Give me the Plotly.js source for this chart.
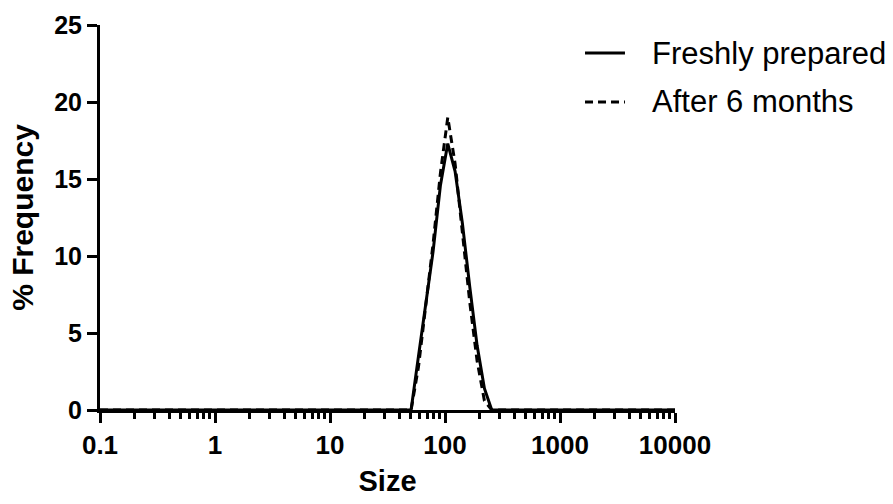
<!DOCTYPE html>
<html>
<head>
<meta charset="utf-8">
<script src="https://cdn.plot.ly/plotly-3.0.1.min.js"></script>
<style>html,body{margin:0;padding:0;background:#fff;}#chart{width:893px;height:504px;}</style>
</head>
<body>
<div id="chart"></div>
<script>
// Size (nm) bins and % frequency values
const sizes = [0.1, 40, 50.7, 58.8, 68.1, 78.8, 91.3, 105.7, 122.4, 141.8, 164.2, 190.1, 220.2, 255.0, 300, 10000];
const freshly = [0, 0, 0, 3.5, 7.0, 10.3, 14.6, 17.3, 15.5, 12.1, 8.0, 4.2, 1.4, 0, 0, 0];
const after6 = [0, 0, 0, 2.8, 6.8, 10.8, 15.4, 19.0, 16.0, 11.5, 7.0, 3.2, 0.6, 0, 0, 0];
const seriesNames = ["Freshly prepared", "After 6 months"];
const xTickVals = [0.1, 1, 10, 100, 1000, 10000];
const xTickText = ["0.1", "1", "10", "100", "1000", "10000"];
const yTickVals = [0, 5, 10, 15, 20, 25];

const font = "Liberation Sans, Arial, sans-serif";
const dashes = ["solid", "8px,5px"];
const traces = [
  {x: sizes, y: freshly, name: seriesNames[0], type: "scatter", mode: "lines",
   line: {color: "#000", width: 3, dash: dashes[0]}, showlegend: false},
  {x: sizes, y: after6, name: seriesNames[1], type: "scatter", mode: "lines",
   line: {color: "#000", width: 3, dash: dashes[1]}, showlegend: false}
];

// Custom legend (line samples + labels) placed to the upper right
const legendY = [0.927, 0.80];
const shapes = seriesNames.map((n, i) => ({
  type: "line", xref: "paper", yref: "paper", x0: 0.8435, x1: 0.913, y0: legendY[i], y1: legendY[i],
  line: {color: "#000", width: 3, dash: dashes[i]}
}));
const annotations = seriesNames.map((n, i) => ({
  xref: "paper", yref: "paper", x: 0.9565, y: legendY[i], xanchor: "left", yanchor: "middle",
  text: n, showarrow: false, font: {size: 31, family: font, color: "#000"}
}));

const layout = {
  width: 893, height: 504,
  margin: {l: 100, r: 218, t: 25, b: 94, autoexpand: false},
  paper_bgcolor: "#fff", plot_bgcolor: "#fff",
  font: {family: font, color: "#000"},
  xaxis: {
    type: "log", range: [-1, 4], tickvals: xTickVals, ticktext: xTickText,
    showgrid: false, zeroline: false, showline: true, linecolor: "#000", linewidth: 3,
    ticks: "outside", ticklen: 10, tickwidth: 3, tickcolor: "#000",
    tickfont: {size: 26, family: font, weight: "bold"},
    minor: {ticks: "outside", ticklen: 6, tickwidth: 3, tickcolor: "#000", dtick: "D1", showgrid: false},
    title: {text: "Size", font: {size: 29, family: font, weight: "bold"}, standoff: 12}
  },
  yaxis: {
    range: [0, 25], tickvals: yTickVals,
    showgrid: false, zeroline: false, showline: true, linecolor: "#000", linewidth: 3,
    ticks: "outside", ticklen: 10, tickwidth: 3, tickcolor: "#000",
    tickfont: {size: 25, family: font, weight: "bold"},
    title: {text: "% Frequency", font: {size: 30, family: font, weight: "bold"}, standoff: 12}
  },
  showlegend: false,
  shapes: shapes,
  annotations: annotations
};
Plotly.newPlot("chart", traces, layout, {displayModeBar: false, staticPlot: true});
</script>
</body>
</html>
